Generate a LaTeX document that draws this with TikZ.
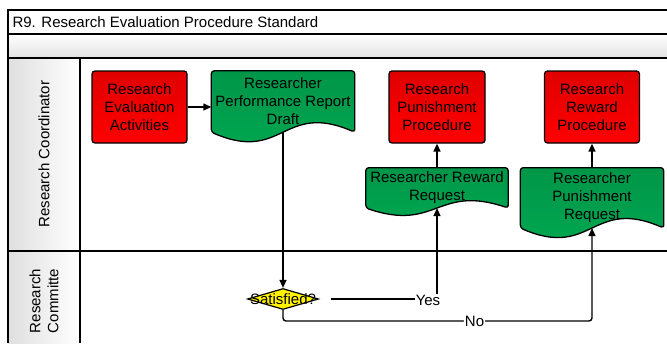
\documentclass[tikz,border=0pt]{standalone}
\usepackage{fontspec}
\setmainfont{Liberation Sans}
\usetikzlibrary{arrows.meta,positioning,shapes.geometric,backgrounds,calc}
\definecolor{procred}{RGB}{255,0,0}
\definecolor{docgreen}{RGB}{0,170,82}
\tikzset{
    lane/.style = {
        line width=1.3pt,
        },
    proc/.style = {
        draw,
        rounded corners=3pt,
        line width=1.3pt,
        top color = procred!88!black,
        bottom color = procred,
        minimum width=95pt,
        minimum height=72pt,
        align=center,
        },
    doc/.style = {
        align=center,
        inner sep=1pt,
        },
    doc edge/.style = {
        draw,
        line width=1.3pt,
        rounded corners=3pt,
        top color = docgreen!88!black,
        bottom color = docgreen,
        },
    decision/.style = {
        diamond,
        draw,
        fill = yellow,
        line width=1.2pt,
        minimum width=71pt,
        minimum height=21pt,
        inner sep=0pt,
        },
    flow/.style = {
        line width=1.4pt,
        -{Triangle[length=8pt,width=7pt]},
        },
    answer/.style = {
        fill = white,
        inner sep=1pt,
        },
}
\begin{document}
\begin{tikzpicture}[x=1pt, y=-1pt, font=\fontsize{15}{18}\selectfont]
    \useasboundingbox (0,0) rectangle (667,343);

    % lanes
    \shade[top color=white, bottom color=gray!22] (8,34) rectangle (667,58);
    \shade[left color=gray!25, right color=white] (8,58) rectangle (80,343);
    \draw[lane] (8,343) -- (8,10) -- (667,10);
    \draw[lane] (8,34) -- (667,34);
    \draw[lane] (8,58) -- (667,58);
    \draw[lane] (8,251) -- (667,251);
    \draw[lane] (80,58) -- (80,343);

    \node[anchor=west] (title) at (9,22) {R9. Research Evaluation Procedure Standard};
    \node[rotate=90] (coord) at (44,154) {Research Coordinator};
    \node[rotate=90, align=center] (comm) at (44,301) {Research\\Committe};

    % steps
    \node[proc] (act) at (139.5,107) {Research\\Evaluation\\Activities};
    \node[doc, minimum width=143pt, minimum height=61pt] (draft) at (283,101.5) {Researcher\\Performance Report\\Draft};
    \node[proc, minimum width=96pt] (punproc) at (437,107) {Research\\Punishment\\Procedure};
    \node[proc] (rewproc) at (592,107) {Research\\Reward\\Procedure};
    \node[doc, minimum width=142pt, minimum height=40pt, below=24pt of punproc] (rewreq) {Researcher Reward\\Request};
    \node[doc, minimum width=143pt, minimum height=60pt, below=24pt of rewproc] (punreq) {Researcher\\Punishment\\Request};
    \node[decision, label=center:Satisfied?] (sat) at (283,299) {};

    \begin{scope}[on background layer]
        \foreach \n/\dip in {draft/31, rewreq/24, punreq/31}
            \draw[doc edge] (\n.south east) -- (\n.north east) -- (\n.north west) -- (\n.south west)
                .. controls ($(\n.south)+(0,\dip)$) and ($(\n.south)+(0,-\dip)$) .. (\n.south east) -- cycle;
    \end{scope}

    \path[flow] (act) edge (act -| draft.west);
    \path[flow] (draft.south) edge (sat);
    \path[flow] (rewreq) edge (punproc);
    \path[flow] (punreq) edge (rewproc);

    \coordinate (nobend) at (283,321);
    \draw[flow, shorten <=12pt] (sat.east) -| node[answer, pos=0.5, xshift=-9pt, yshift=-1pt] {Yes} (rewreq.south);
    \draw[flow, rounded corners=3pt] (sat.south) -- (nobend) -| node[answer, pos=0.31] {No} (punreq.south);
\end{tikzpicture}
\end{document}
